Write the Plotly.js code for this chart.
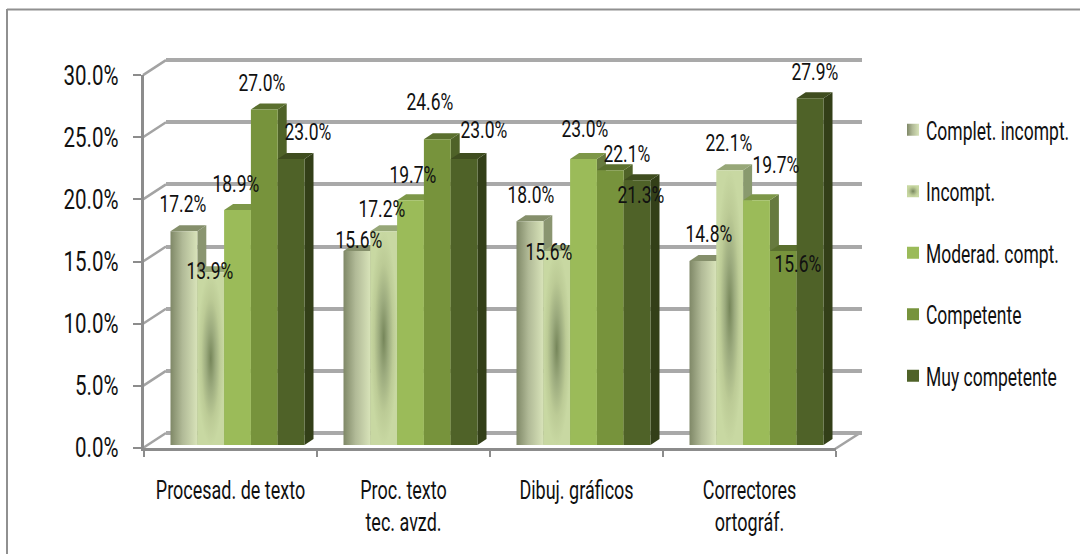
<!DOCTYPE html>
<html>
<head>
<meta charset="utf-8">
<script src="https://cdn.plot.ly/plotly-3.0.1.min.js"></script>
<style>html,body{margin:0;padding:0;background:#fff}#chart{width:1080px;height:554px}</style>
</head>
<body>
<div id="chart"></div>
<script>
// Skill levels per word-processing task, percent of respondents
const categories = ['Procesad. de texto', 'Proc. texto<br>tec. avzd.', 'Dibuj. gráficos', 'Correctores<br>ortográf.'];
const seriesNames = ['Complet. incompt.', 'Incompt.', 'Moderad. compt.', 'Competente', 'Muy competente'];
const completIncompt = [17.2, 15.6, 18.0, 14.8];
const incompt = [13.9, 17.2, 15.6, 22.1];
const moderadCompt = [18.9, 19.7, 23.0, 19.7];
const competente = [27.0, 24.6, 22.1, 15.6];
const muyCompetente = [23.0, 23.0, 21.3, 27.9];
const seriesValues = [completIncompt, incompt, moderadCompt, competente, muyCompetente];

// Face colours per series
const frontColors = ['#b5bf9a', '#b0c08c', '#9bbb59', '#77933c', '#4f6228'];
const topColors = ['#858f6b', '#97a778', '#7d9748', '#5a6f2e', '#3f4d1f'];
const sideColors = ['#8a9570', '#899a6e', '#677a3f', '#4f6228', '#333f18'];

// Label nudges in pixels relative to the bar's top centre, per series then group
const labelDx = [[-1, 2, 1, 6], [-1, -2, -8, -1], [-2, 2, 1, 19], [-2, -7, 17, 15], [17, 20, 4, 5]];
const labelDy = [[27, 11, 26, 27], [1, 22, -1, 27], [26, 25, 30, 35], [26, 37, 16, -13], [27, 29, -15, 26]];

const W = 1080, H = 554;
const fx = px => px / W;
const fy = px => 1 - px / H;
const groupStep = 173;
const barWidth = 26.8 / groupStep;
const depthX = 9 / groupStep;
const depthY = 6 / 12.43;
const axisMax = 30;
const tickStep = 5;
const groups = categories.map((_, g) => g);

const textColor = '#111111';
const family = 'Roboto, "Liberation Sans", sans-serif';

const traces = seriesNames.map((name, s) => ({
  type: 'bar', name, legendgroup: name,
  x: groups, y: seriesValues[s], xaxis: 'x2', yaxis: 'y2',
  width: barWidth,
  marker: {color: frontColors[s], line: {width: 0}},
  hoverinfo: 'name+y'
}));

// Transparent anchors so the back-wall and front-axis subplots are laid out
[['x', 'y'], ['x3', 'y3']].forEach(([xa, ya]) => {
  traces.push({type: 'scatter', mode: 'markers', x: [0], y: [0], xaxis: xa, yaxis: ya,
    marker: {opacity: 0}, showlegend: false, hoverinfo: 'skip'});
});

// Oblique faces, drawn from the same values on the bars' axes
const shapes = [];
seriesNames.forEach((_, s) => {
  groups.forEach(g => {
    const v = seriesValues[s][g];
    const l = g + (s - 2.5) * barWidth, r = l + barWidth;
    shapes.push({type: 'path', xref: 'x2', yref: 'y2', layer: 'between', line: {width: 0}, fillcolor: sideColors[s],
      path: `M${r},0 L${r + depthX},${depthY} L${r + depthX},${v + depthY} L${r},${v} Z`});
    shapes.push({type: 'path', xref: 'x2', yref: 'y2', layer: 'between', line: {width: 0}, fillcolor: topColors[s],
      path: `M${l},${v} L${l + depthX},${v + depthY} L${r + depthX},${v + depthY} L${r},${v} Z`});
  });
});

// Perspective connectors between the front axis and the back wall
const frontLeft = 143, backLeft = 166, frontBase = 448, backBase = 433, unitPx = 12.43;
for (let t = 0; t <= axisMax; t += tickStep) {
  shapes.push({type: 'line', xref: 'paper', yref: 'paper', layer: 'below',
    x0: fx(frontLeft), y0: fy(frontBase - t * unitPx), x1: fx(backLeft), y1: fy(backBase - t * unitPx),
    line: {color: '#a3a3a3', width: 2.5}});
}
shapes.push({type: 'line', xref: 'paper', yref: 'paper', layer: 'below',
  x0: fx(835), y0: fy(449), x1: fx(860), y1: fy(433), line: {color: '#a3a3a3', width: 2.5}});
// Outer frame: top and left rules run to the page edge
shapes.push({type: 'line', xref: 'paper', yref: 'paper', layer: 'above',
  x0: fx(7), y0: fy(9.5), x1: 1, y1: fy(9.5), line: {color: '#909090', width: 2}});
shapes.push({type: 'line', xref: 'paper', yref: 'paper', layer: 'above',
  x0: fx(7), y0: fy(9), x1: fx(7), y1: 0, line: {color: '#909090', width: 2}});

const annotations = [];
seriesNames.forEach((_, s) => {
  groups.forEach(g => {
    const v = seriesValues[s][g];
    annotations.push({
      xref: 'x2', yref: 'y2', x: g + (s - 2) * barWidth, y: v,
      text: v.toFixed(1) + '%', showarrow: false,
      xshift: labelDx[s][g], yshift: labelDy[s][g],
      xanchor: 'center', yanchor: 'middle',
      font: {family, size: 23, color: textColor}
    });
  });
});

// The wall's range overshoots slightly so its first and last gridlines are kept
const wallPad = 0.2;

const layout = {
  width: W, height: H, autosize: false,
  margin: {l: 0, r: 0, t: 0, b: 0, autoexpand: false},
  paper_bgcolor: '#ffffff', plot_bgcolor: 'rgba(0,0,0,0)',
  barmode: 'group', bargap: 1 - 5 * barWidth, bargroupgap: 0,
  shapes, annotations,
  // back wall with the gridlines
  xaxis: {domain: [fx(166), fx(862)], range: [0, 1], anchor: 'y', visible: false, fixedrange: true},
  yaxis: {domain: [fy(backBase + wallPad * unitPx), fy(backBase - (axisMax + wallPad) * unitPx)], range: [-wallPad, axisMax + wallPad],
    anchor: 'x', dtick: tickStep, tick0: 0,
    showgrid: true, gridcolor: '#a9a9a9', gridwidth: 4, zeroline: false, showticklabels: false, ticks: '', showline: false, fixedrange: true},
  // bars
  xaxis2: {domain: [fx(151), fx(843)], range: [-0.5, 3.5], anchor: 'y2', visible: false, fixedrange: true},
  yaxis2: {domain: [fy(445), fy(445 - axisMax * unitPx)], range: [0, axisMax], anchor: 'x2', visible: false, fixedrange: true},
  // front axes and labels
  xaxis3: {domain: [fx(144), fx(836)], range: [-0.5, 3.5], anchor: 'y3', tickmode: 'array', tickvals: groups, ticktext: categories,
    showgrid: false, zeroline: false, showline: true, linecolor: '#8c8c8c', linewidth: 3, ticks: '', ticklabelstandoff: 18,
    minor: {tickmode: 'array', tickvals: [-0.5, 0.5, 1.5, 2.5, 3.5], ticks: 'outside', ticklen: 6, tickwidth: 2, tickcolor: '#8c8c8c', showgrid: false},
    tickfont: {family, size: 25, color: textColor}, fixedrange: true},
  yaxis3: {domain: [fy(frontBase), fy(frontBase - axisMax * unitPx)], range: [0, axisMax], anchor: 'x3', dtick: tickStep, tick0: 0,
    ticksuffix: '%', tickformat: '.1f', showgrid: false, zeroline: false, showline: true, linecolor: '#8c8c8c', linewidth: 3,
    ticks: 'outside', ticklen: 8, tickwidth: 1.5, tickcolor: '#8c8c8c', ticklabelstandoff: 9,
    tickfont: {family, size: 27, color: textColor}, fixedrange: true},
  legend: {x: fx(893), xanchor: 'left', y: fy(107), yanchor: 'top', traceorder: 'grouped', tracegroupgap: 26,
    entrywidth: 146, entrywidthmode: 'pixels',
    bgcolor: 'rgba(0,0,0,0)', font: {family, size: 25, color: textColor}},
  showlegend: true
};

function addGradients(svg) {
  const ns = 'http://www.w3.org/2000/svg';
  const defs = document.createElementNS(ns, 'defs');
  const make = (tag, id, attrs, stops) => {
    const g = document.createElementNS(ns, tag);
    g.setAttribute('id', id);
    Object.entries(attrs).forEach(([k, v]) => g.setAttribute(k, v));
    stops.forEach(([o, c]) => {
      const st = document.createElementNS(ns, 'stop');
      st.setAttribute('offset', o);
      st.setAttribute('stop-color', c);
      g.appendChild(st);
    });
    defs.appendChild(g);
  };
  make('linearGradient', 'barSheen', {x1: 0, y1: 0, x2: 1, y2: 0},
    [[0, '#7f8867'], [0.45, '#b1ba97'], [1, '#d8e3b9']]);
  make('radialGradient', 'barGlow', {cx: 0.5, cy: 0.5, r: 0.5},
    [[0, '#76865a'], [0.35, '#9cab7e'], [0.7, '#bccb96'], [1, '#c8d8a2']]);
  svg.insertBefore(defs, svg.firstChild);
}

// Condensed lettering: each text is squeezed horizontally about its own anchor
function narrow(selector, factor) {
  gd.querySelectorAll(selector).forEach(t => {
    const ax = parseFloat(t.getAttribute('x')) || 0;
    const prior = t.getAttribute('transform') || '';
    t.setAttribute('transform', `${prior} translate(${ax},0) scale(${factor},1) translate(${-ax},0)`);
  });
}

const gd = document.getElementById('chart');
Plotly.newPlot(gd, traces, layout, {displayModeBar: false}).then(() => {
  const svg = gd.querySelector('.main-svg');
  addGradients(svg);
  const fills = ['url(#barSheen)', 'url(#barGlow)'];
  const barTraces = gd.querySelectorAll('.barlayer .trace');
  const legendItems = gd.querySelectorAll('.legend .traces');
  fills.forEach((f, i) => {
    barTraces[i].querySelectorAll('path').forEach(p => p.style.setProperty('fill', f));
    legendItems[i].querySelectorAll('.legendpoints path').forEach(p => p.style.setProperty('fill', f));
  });
  legendItems.forEach(it => {
    const t = it.querySelector('.legendtext');
    t.setAttribute('x', parseFloat(t.getAttribute('x')) - 7);
  });
  narrow('.legend .legendtext', 0.70);
  narrow('.xtick text, .x3tick text', 0.72);
  narrow('.ytick text, .y3tick text', 0.76);
  narrow('.annotation-text', 0.76);
});
</script>
</body>
</html>
